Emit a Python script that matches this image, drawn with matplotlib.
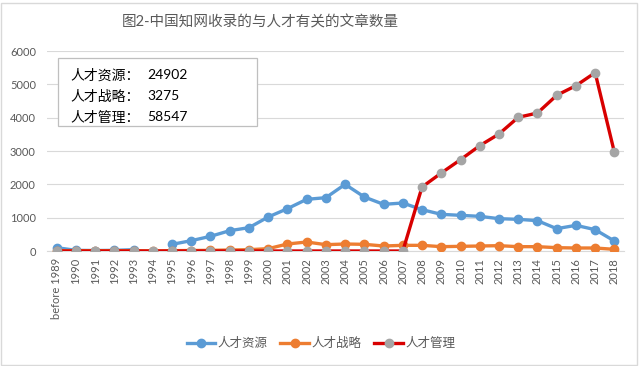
import numpy as np
import matplotlib
matplotlib.use("Agg")
import matplotlib.pyplot as plt
from matplotlib.lines import Line2D
from matplotlib.patches import Rectangle

plt.rcParams['font.family'] = ['Lato', 'Noto Sans CJK SC', 'DejaVu Sans']

years = ['before 1989'] + [str(y) for y in range(1990, 2019)]
resource = [100, 20, 15, 20, 40, np.nan, 200, 310, 440, 610, 700, 1020, 1270, 1550,
            1600, 2000, 1620, 1400, 1440, 1240, 1100, 1070, 1040, 970, 950, 910,
            670, 770, 640, 300]
strategy = [10, 10, 10, 10, 10, 0, 10, 15, 20, 30, 40, 70, 210, 270, 190, 210, 200,
            150, 170, 170, 130, 140, 150, 160, 130, 130, 100, 90, 90, 50]
manage = [0, 0, 0, 0, 0, 0, 0, 0, 0, 0, 0, 0, 0, 0, 0, 0, 0, 0, 0,
          1920, 2340, 2740, 3160, 3510, 4010, 4140, 4670, 4960, 5350, 2960]
names = ['人才资源', '人才战略', '人才管理']
totals = ['24902', '3275', '58547']

W, H = 640, 366
fig = plt.figure(figsize=(W / 100, H / 100), dpi=100)
ax = fig.add_axes([47 / W, (H - 251) / H, (624 - 47) / W, 200 / H])

x = np.arange(len(years))
blue, orange, red, gray = '#5B9BD5', '#ED7D31', '#D80000', '#A5A5A5'
ax.plot(x, resource, color=blue, lw=2.4, marker='o', ms=6, mfc=blue, mec=blue, zorder=3)
ax.plot(x, strategy, color=orange, lw=2.4, marker='o', ms=6, mfc=orange, mec=orange, zorder=4)
ax.plot(x, manage, color=red, lw=2.4, marker='o', ms=6, mfc=gray, mec=gray, zorder=5)

ax.set_xlim(-0.5, len(years) - 0.5)
ax.set_ylim(0, 6000)
ax.set_yticks(range(0, 6001, 1000))
ax.set_xticks(x)
ax.set_xticklabels(years, rotation=90)
ax.tick_params(axis='both', length=0, colors='#595959', labelsize=8)
ax.tick_params(axis='y', pad=8, labelsize=8)
ax.tick_params(axis='x', pad=5)
ax.grid(axis='y', color='#D9D9D9', lw=0.8)
ax.set_axisbelow(True)
for s in ['top', 'right', 'left']:
    ax.spines[s].set_visible(False)
ax.spines['bottom'].set_color('#D9D9D9')

fig.text(260 / W, 1 - 22 / H, '图2-中国知网收录的与人才有关的文章数量', ha='center', va='center',
         fontsize=10.5, color='#595959')

# summary box
fig.patches.append(Rectangle((58 / W, 1 - 126 / H), (257 - 58) / W, (126 - 58) / H,
                             transform=fig.transFigure, facecolor='white',
                             edgecolor='#BFBFBF', lw=0.9, zorder=10))
for i, (n, t) in enumerate(zip(names, totals)):
    fig.text(70 / W, 1 - (75 + 21 * i) / H, n + '：', ha='left', va='center',
             fontsize=10, color='black', zorder=11)
    fig.text(147 / W, 1 - (75 + 21 * i) / H, t, ha='left', va='center',
             fontsize=10, color='black', zorder=11)

handles = [Line2D([], [], color=blue, lw=2.4, marker='o', ms=6, mfc=blue, mec=blue),
           Line2D([], [], color=orange, lw=2.4, marker='o', ms=6, mfc=orange, mec=orange),
           Line2D([], [], color=red, lw=2.4, marker='o', ms=6, mfc=gray, mec=gray)]
leg = fig.legend(handles, names, loc='center', bbox_to_anchor=(321 / W, 1 - 343 / H),
                 ncol=3, frameon=False, fontsize=9, handlelength=2.3, handletextpad=0.2,
                 columnspacing=1.0)
for t in leg.get_texts():
    t.set_color('#595959')

fig.patches.append(Rectangle((1 / W, 1 / H), (W - 4) / W, (H - 4) / H,
                             transform=fig.transFigure, facecolor='none',
                             edgecolor='#D9D9D9', lw=1))

fig.savefig('out.png', dpi=100, facecolor='white')
